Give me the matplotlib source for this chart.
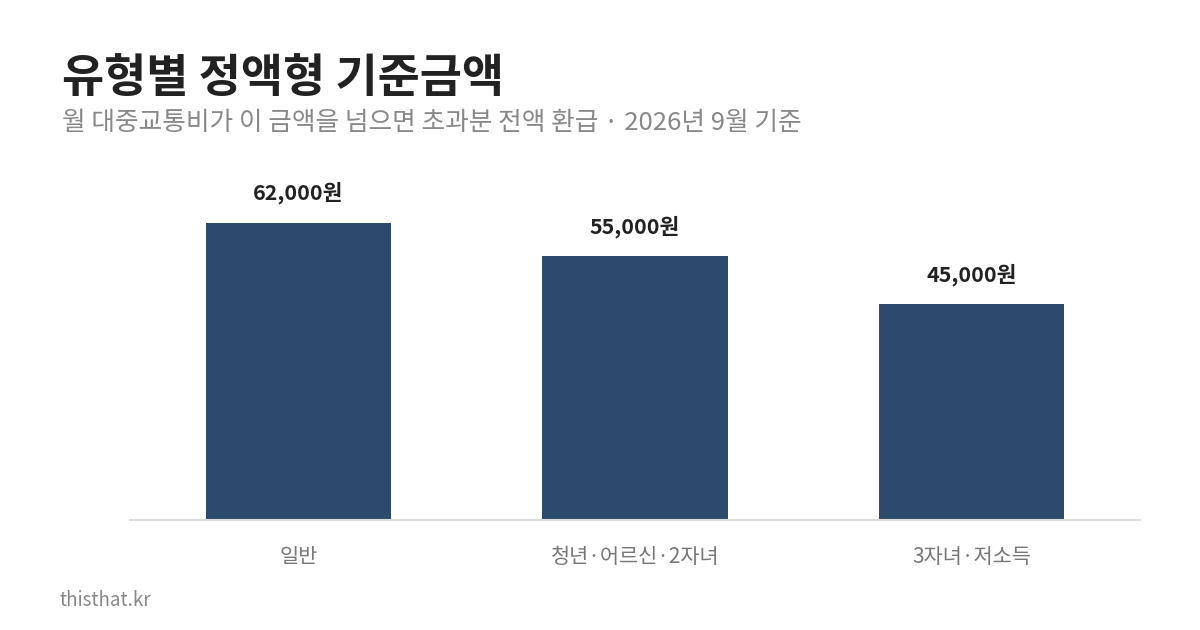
import matplotlib
matplotlib.use("Agg")
import matplotlib.pyplot as plt

plt.rcParams["font.family"] = ["Noto Sans CJK KR", "DejaVu Sans"]

categories = ["일반", "청년·어르신·2자녀", "3자녀·저소득"]
values = [62000, 55000, 45000]
value_labels = ["62,000원", "55,000원", "45,000원"]

title = "유형별 정액형 기준금액"
subtitle = "월 대중교통비가 이 금액을 넘으면 초과분 전액 환급 · 2026년 9월 기준"
footer = "thisthat.kr"

bar_color = "#2c4a6b"

fig = plt.figure(figsize=(12, 6.3), dpi=100)
fig.patch.set_facecolor("white")
ax = fig.add_axes([130 / 1200, 110 / 630, 1010 / 1200, 357 / 630])

x = range(len(categories))
bars = ax.bar(x, values, width=0.55, color=bar_color, zorder=2)
for b, lab in zip(bars, value_labels):
    ax.annotate(lab, (b.get_x() + b.get_width() / 2, b.get_height()),
                xytext=(0, 13), textcoords="offset points",
                ha="center", va="bottom", fontsize=15.5, fontweight="bold",
                color="#222222")

ax.set_xlim(-0.5, len(categories) - 0.5)
ax.set_ylim(0, max(values) * 1.2)
ax.set_xticks(list(x))
ax.set_xticklabels(categories, fontsize=15, color="#777777")
ax.tick_params(axis="x", length=0, pad=19)
ax.set_yticks([])
for s in ["top", "right", "left"]:
    ax.spines[s].set_visible(False)
ax.spines["bottom"].set_color("#dddddd")
ax.spines["bottom"].set_linewidth(1.5)

fig.text(62 / 1200, 1 - 92 / 630, title, fontsize=33, fontweight="bold",
         color="#222222", ha="left", va="baseline")
fig.text(62 / 1200, 1 - 130 / 630, subtitle, fontsize=18.5,
         color="#888888", ha="left", va="baseline")
fig.text(60 / 1200, 1 - 606 / 630, footer, fontsize=13.5,
         color="#888888", ha="left", va="baseline")

fig.savefig("out.png", dpi=100, facecolor="white")
